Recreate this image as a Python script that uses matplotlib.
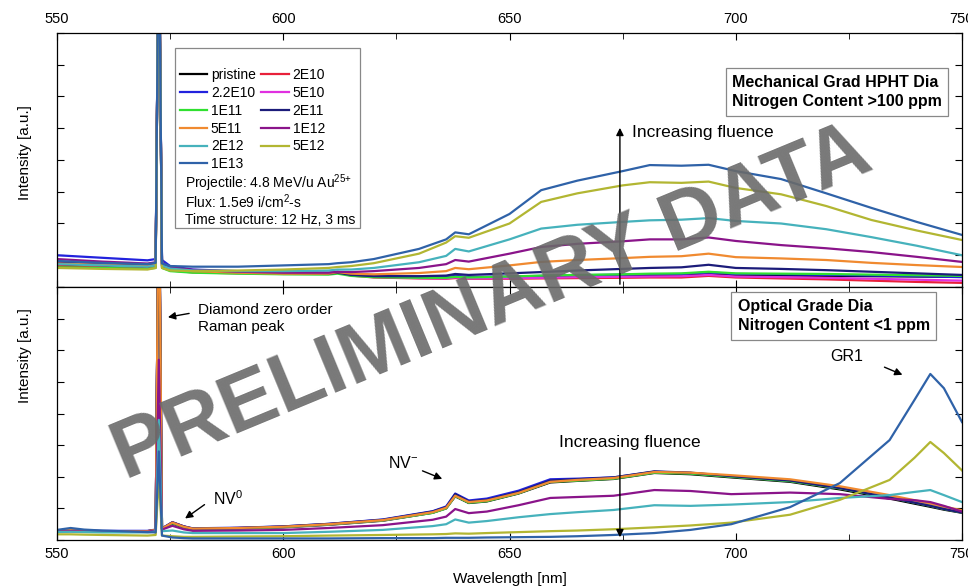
import matplotlib
matplotlib.use("Agg")
import matplotlib.pyplot as plt
from matplotlib.patches import Rectangle
from matplotlib.ticker import MultipleLocator

plt.rcParams['font.family'] = ['Liberation Sans', 'DejaVu Sans']
plt.rcParams['mathtext.fontset'] = 'custom'
plt.rcParams['mathtext.rm'] = 'Liberation Sans'
plt.rcParams['mathtext.it'] = 'Liberation Sans'
plt.rcParams['mathtext.default'] = 'regular'

# sample names (fluence order) and line colours
names = ['pristine', '2E10', '2.2E10', '5E10', '1E11', '2E11',
         '5E11', '1E12', '2E12', '5E12', '1E13']
colors = ['#000000', '#e8203a', '#2222dd', '#e030e0', '#30e030', '#1c1c7a',
          '#f08a30', '#8a148a', '#46b2bc', '#b2b632', '#2f62a8']

# ---- top panel: Mechanical grade HPHT diamond ----
wl_top = [550, 560, 570, 571.8, 572.5, 573.2, 575, 580, 590, 600, 610, 612, 615,
          620, 630, 636, 638, 641, 650, 657, 665, 675, 681, 688, 694, 700, 710,
          720, 730, 740, 750]
top = {
    'pristine': [0.68, 0.64, 0.62, 0.66, 12, 0.66, 0.55, 0.48, 0.45, 0.43, 0.42, 0.45, 0.38,
                 0.33, 0.30, 0.29, 0.31, 0.29, 0.30, 0.32, 0.33, 0.34, 0.35, 0.36, 0.40, 0.36,
                 0.36, 0.35, 0.34, 0.33, 0.32],
    '2E10': [0.66, 0.62, 0.58, 0.62, 12, 0.62, 0.52, 0.46, 0.43, 0.41, 0.41, 0.46, 0.36,
             0.30, 0.27, 0.26, 0.28, 0.26, 0.26, 0.27, 0.28, 0.29, 0.30, 0.30, 0.35, 0.30,
             0.27, 0.24, 0.20, 0.16, 0.13],
    '2.2E10': [1.00, 0.92, 0.84, 0.88, 12, 0.85, 0.66, 0.55, 0.50, 0.47, 0.45, 0.48, 0.41,
               0.36, 0.33, 0.32, 0.35, 0.32, 0.33, 0.35, 0.37, 0.39, 0.40, 0.41, 0.46, 0.41,
               0.40, 0.38, 0.36, 0.34, 0.31],
    '5E10': [0.76, 0.70, 0.66, 0.70, 12, 0.70, 0.58, 0.50, 0.46, 0.44, 0.43, 0.47, 0.38,
             0.32, 0.28, 0.27, 0.30, 0.27, 0.28, 0.29, 0.31, 0.32, 0.33, 0.34, 0.38, 0.33,
             0.31, 0.29, 0.26, 0.23, 0.20],
    '1E11': [0.62, 0.60, 0.57, 0.60, 12, 0.60, 0.50, 0.45, 0.42, 0.40, 0.39, 0.42, 0.35,
             0.31, 0.29, 0.29, 0.32, 0.30, 0.33, 0.36, 0.38, 0.40, 0.42, 0.43, 0.48, 0.43,
             0.42, 0.41, 0.39, 0.37, 0.35],
    '2E11': [0.80, 0.75, 0.70, 0.74, 12, 0.73, 0.60, 0.52, 0.47, 0.44, 0.42, 0.45, 0.38,
             0.34, 0.34, 0.36, 0.41, 0.38, 0.43, 0.47, 0.52, 0.57, 0.60, 0.62, 0.70, 0.60,
             0.57, 0.53, 0.48, 0.43, 0.38],
    '5E11': [0.74, 0.70, 0.66, 0.70, 12, 0.70, 0.58, 0.50, 0.45, 0.42, 0.42, 0.47, 0.42,
             0.40, 0.44, 0.50, 0.60, 0.56, 0.68, 0.79, 0.85, 0.91, 0.95, 0.97, 1.05, 0.94,
             0.90, 0.85, 0.76, 0.69, 0.63],
    '1E12': [0.88, 0.80, 0.74, 0.78, 12, 0.76, 0.62, 0.54, 0.48, 0.45, 0.45, 0.48, 0.47,
             0.50, 0.60, 0.72, 0.85, 0.80, 1.05, 1.26, 1.36, 1.44, 1.50, 1.50, 1.56, 1.45,
             1.32, 1.22, 1.10, 0.95, 0.79],
    '2E12': [0.72, 0.68, 0.64, 0.68, 12, 0.68, 0.58, 0.52, 0.50, 0.50, 0.52, 0.55, 0.55,
             0.60, 0.78, 0.98, 1.20, 1.12, 1.50, 1.84, 1.96, 2.05, 2.10, 2.12, 2.17, 2.08,
             2.00, 1.82, 1.57, 1.30, 1.00],
    '5E12': [0.60, 0.57, 0.55, 0.60, 12, 0.60, 0.52, 0.50, 0.52, 0.55, 0.60, 0.63, 0.66,
             0.75, 1.05, 1.40, 1.60, 1.55, 2.00, 2.68, 2.95, 3.20, 3.30, 3.28, 3.32, 3.12,
             2.92, 2.55, 2.11, 1.78, 1.48],
    '1E13': [0.82, 0.76, 0.72, 0.76, 12, 0.74, 0.66, 0.64, 0.64, 0.68, 0.72, 0.75, 0.78,
             0.88, 1.20, 1.50, 1.72, 1.66, 2.30, 3.05, 3.35, 3.65, 3.84, 3.82, 3.85, 3.65,
             3.40, 2.95, 2.49, 2.05, 1.64],
}

# ---- bottom panel: Optical grade diamond ----
wl_bot = [550, 553, 556, 560, 570, 571.8, 572.5, 573.2, 575.5, 578, 580, 590, 600, 610,
          622, 633, 636, 638, 641, 645, 652, 659, 665, 673, 682, 690, 699, 712, 723,
          734, 739.5, 743, 746, 750]
bot = {
    'pristine': [0.28, 0.29, 0.27, 0.26, 0.26, 0.30, 12, 0.34, 0.52, 0.40, 0.34, 0.36, 0.40,
                 0.48, 0.61, 0.86, 1.00, 1.38, 1.17, 1.22, 1.47, 1.82, 1.87, 1.93, 2.12,
                 2.08, 1.98, 1.84, 1.60, 1.31, 1.15, 1.05, 0.96, 0.86],
    '2E10': [0.30, 0.31, 0.29, 0.28, 0.28, 0.32, 12, 0.36, 0.56, 0.43, 0.36, 0.38, 0.42,
             0.50, 0.63, 0.88, 1.02, 1.42, 1.20, 1.25, 1.50, 1.86, 1.90, 1.96, 2.15,
             2.12, 2.02, 1.88, 1.65, 1.36, 1.20, 1.10, 1.00, 0.89],
    '2.2E10': [0.31, 0.32, 0.30, 0.29, 0.29, 0.33, 12, 0.37, 0.56, 0.43, 0.37, 0.39, 0.43,
               0.51, 0.65, 0.91, 1.06, 1.47, 1.25, 1.31, 1.56, 1.92, 1.94, 1.98, 2.16,
               2.12, 2.01, 1.87, 1.64, 1.35, 1.19, 1.09, 0.99, 0.88],
    '5E10': [0.29, 0.30, 0.28, 0.27, 0.27, 0.31, 12, 0.35, 0.55, 0.42, 0.35, 0.37, 0.41,
             0.49, 0.62, 0.87, 1.01, 1.40, 1.19, 1.24, 1.49, 1.85, 1.89, 1.95, 2.14,
             2.11, 2.01, 1.87, 1.64, 1.35, 1.19, 1.09, 0.99, 0.88],
    '1E11': [0.28, 0.29, 0.27, 0.27, 0.27, 0.30, 12, 0.35, 0.53, 0.41, 0.35, 0.37, 0.41,
             0.49, 0.62, 0.86, 1.00, 1.39, 1.18, 1.23, 1.48, 1.84, 1.88, 1.94, 2.13,
             2.10, 2.00, 1.86, 1.63, 1.34, 1.18, 1.08, 0.98, 0.87],
    '2E11': [0.30, 0.31, 0.29, 0.28, 0.28, 0.32, 12, 0.36, 0.56, 0.43, 0.36, 0.38, 0.43,
             0.51, 0.64, 0.90, 1.04, 1.45, 1.22, 1.27, 1.52, 1.88, 1.92, 1.98, 2.17,
             2.13, 2.02, 1.88, 1.64, 1.34, 1.18, 1.08, 0.98, 0.87],
    '5E11': [0.30, 0.31, 0.29, 0.28, 0.28, 0.32, 12, 0.36, 0.55, 0.42, 0.36, 0.38, 0.42,
             0.50, 0.63, 0.88, 1.02, 1.40, 1.20, 1.25, 1.49, 1.84, 1.90, 1.96, 2.15,
             2.13, 2.05, 1.92, 1.70, 1.42, 1.26, 1.16, 1.06, 0.94],
    '1E12': [0.27, 0.28, 0.27, 0.26, 0.26, 0.30, 5.7, 0.33, 0.45, 0.34, 0.29, 0.30, 0.32,
             0.38, 0.47, 0.64, 0.74, 0.98, 0.85, 0.90, 1.10, 1.33, 1.36, 1.40, 1.58,
             1.55, 1.45, 1.50, 1.45, 1.30, 1.26, 1.20, 1.08, 0.90],
    '2E12': [0.25, 0.26, 0.25, 0.24, 0.24, 0.27, 3.8, 0.28, 0.30, 0.24, 0.22, 0.22, 0.22,
             0.26, 0.32, 0.44, 0.50, 0.65, 0.55, 0.60, 0.72, 0.82, 0.88, 0.95, 1.10,
             1.08, 1.12, 1.20, 1.33, 1.42, 1.52, 1.58, 1.42, 1.20],
    '5E12': [0.18, 0.18, 0.17, 0.16, 0.14, 0.16, 2.0, 0.14, 0.12, 0.10, 0.10, 0.11, 0.12,
             0.14, 0.16, 0.18, 0.19, 0.21, 0.20, 0.22, 0.25, 0.28, 0.30, 0.34, 0.40,
             0.46, 0.55, 0.80, 1.27, 1.90, 2.60, 3.10, 2.75, 2.20],
    '1E13': [0.32, 0.38, 0.33, 0.30, 0.25, 0.24, 2.8, 0.14, 0.08, 0.06, 0.05, 0.05, 0.05,
             0.05, 0.06, 0.06, 0.07, 0.07, 0.07, 0.08, 0.09, 0.10, 0.12, 0.16, 0.22,
             0.32, 0.50, 1.04, 1.80, 3.16, 4.43, 5.25, 4.80, 3.73],
}

fig = plt.figure(figsize=(9.68, 5.88), dpi=100)
ax1 = fig.add_axes([0.0589, 0.5119, 0.9349, 0.4320])
ax2 = fig.add_axes([0.0589, 0.0816, 0.9349, 0.4303], sharex=ax1)

lines = []
for n, c in zip(names, colors):
    l, = ax1.plot(wl_top, top[n], color=c, lw=1.6, label=n)
    ax2.plot(wl_bot, bot[n], color=c, lw=1.6)
    lines.append(l)

for ax in (ax1, ax2):
    ax.set_xlim(550, 750)
    ax.set_ylim(0, 8)
    ax.xaxis.set_major_locator(MultipleLocator(50))
    ax.xaxis.set_minor_locator(MultipleLocator(25))
    ax.yaxis.set_major_locator(MultipleLocator(1))
    ax.tick_params(which='both', direction='in', top=True, bottom=True,
                   left=True, right=True, labelleft=False, labelsize=10.5, pad=5)
    ax.tick_params(which='major', length=5)
    ax.tick_params(which='minor', length=4)
    for s in ax.spines.values():
        s.set_linewidth(0.9)

ax1.tick_params(labelbottom=False, labeltop=True)
ax2.set_xlabel('Wavelength [nm]', fontsize=11, labelpad=8)
ax1.set_ylabel('Intensity [a.u.]', fontsize=11)
ax2.set_ylabel('Intensity [a.u.]', fontsize=11)
ax1.yaxis.set_label_coords(-0.028, 0.53)
ax2.yaxis.set_label_coords(-0.028, 0.73)

# legend box with run conditions
ax1.add_patch(Rectangle((0.130, 0.232), 0.205, 0.709, transform=ax1.transAxes,
                        facecolor='white', edgecolor='#888888', lw=0.9, zorder=4))
order = [0, 2, 4, 6, 8, 10, 1, 3, 5, 7, 9]
leg = ax1.legend([lines[i] for i in order], [names[i] for i in order], ncol=2,
                 loc='upper left', bbox_to_anchor=(0.134, 0.868), frameon=False,
                 fontsize=10, handlelength=2.0, handletextpad=0.25, columnspacing=0.4,
                 labelspacing=0.28, borderpad=0.1, borderaxespad=0)
leg.set_zorder(5)
info = ['Projectile: 4.8 MeV/u Au$^{25{+}}$', 'Flux: 1.5e9 i/cm$^{2}$-s',
        'Time structure: 12 Hz, 3 ms']
for k, t in enumerate(info):
    ax1.text(0.1414, 0.409 - 0.072 * k, t, transform=ax1.transAxes, fontsize=10,
             va='center', ha='left', zorder=6)

box = dict(boxstyle='square,pad=0.4', facecolor='white', edgecolor='#888888', lw=0.9)
ax1.text(0.746, 0.768, 'Mechanical Grad HPHT Dia\nNitrogen Content >100 ppm',
         transform=ax1.transAxes, fontsize=11.5, fontweight='bold', va='center',
         ha='left', linespacing=1.4, bbox=box, zorder=6)
ax2.text(0.752, 0.885, 'Optical Grade Dia\nNitrogen Content <1 ppm',
         transform=ax2.transAxes, fontsize=11.5, fontweight='bold', va='center',
         ha='left', linespacing=1.4, bbox=box, zorder=6)

arr = dict(arrowstyle='-|>', color='black', lw=1.0, mutation_scale=11)
# increasing fluence arrows
ax1.annotate('', xy=(674.4, 5.1), xytext=(674.4, 0), arrowprops=arr)
ax1.text(677, 4.88, 'Increasing fluence', fontsize=12.5, va='center', ha='left')
ax2.annotate('', xy=(674.4, 0), xytext=(674.4, 2.69), arrowprops=arr)
ax2.text(676.6, 3.07, 'Increasing fluence', fontsize=12.5, va='center', ha='center')

# peak labels in the bottom panel
ax2.annotate('', xy=(573.9, 7.03), xytext=(579.8, 7.18), arrowprops=arr)
ax2.text(581.2, 7.5, 'Diamond zero order\nRaman peak', fontsize=11, va='top',
         ha='left', linespacing=1.25)
ax2.annotate('', xy=(577.8, 0.63), xytext=(583.1, 1.17), arrowprops=arr)
ax2.text(584.5, 1.3, 'NV$^0$', fontsize=11.5, va='center', ha='left')
ax2.annotate('', xy=(635.7, 1.9), xytext=(630.2, 2.22), arrowprops=arr)
ax2.text(623.1, 2.45, 'NV$^{-}$', fontsize=11.5, va='center', ha='left')
ax2.annotate('', xy=(737.4, 5.19), xytext=(732.3, 5.5), arrowprops=arr)
ax2.text(724.6, 5.8, 'GR1', fontsize=11.5, va='center', ha='center')

# watermark
fig.text(0.508, 0.482, 'PRELIMINARY DATA', fontsize=60, fontweight='bold',
         color='#6a6a6a', alpha=0.9, rotation=22.5, ha='center', va='center', zorder=10)

fig.savefig('out.png', dpi=100)
